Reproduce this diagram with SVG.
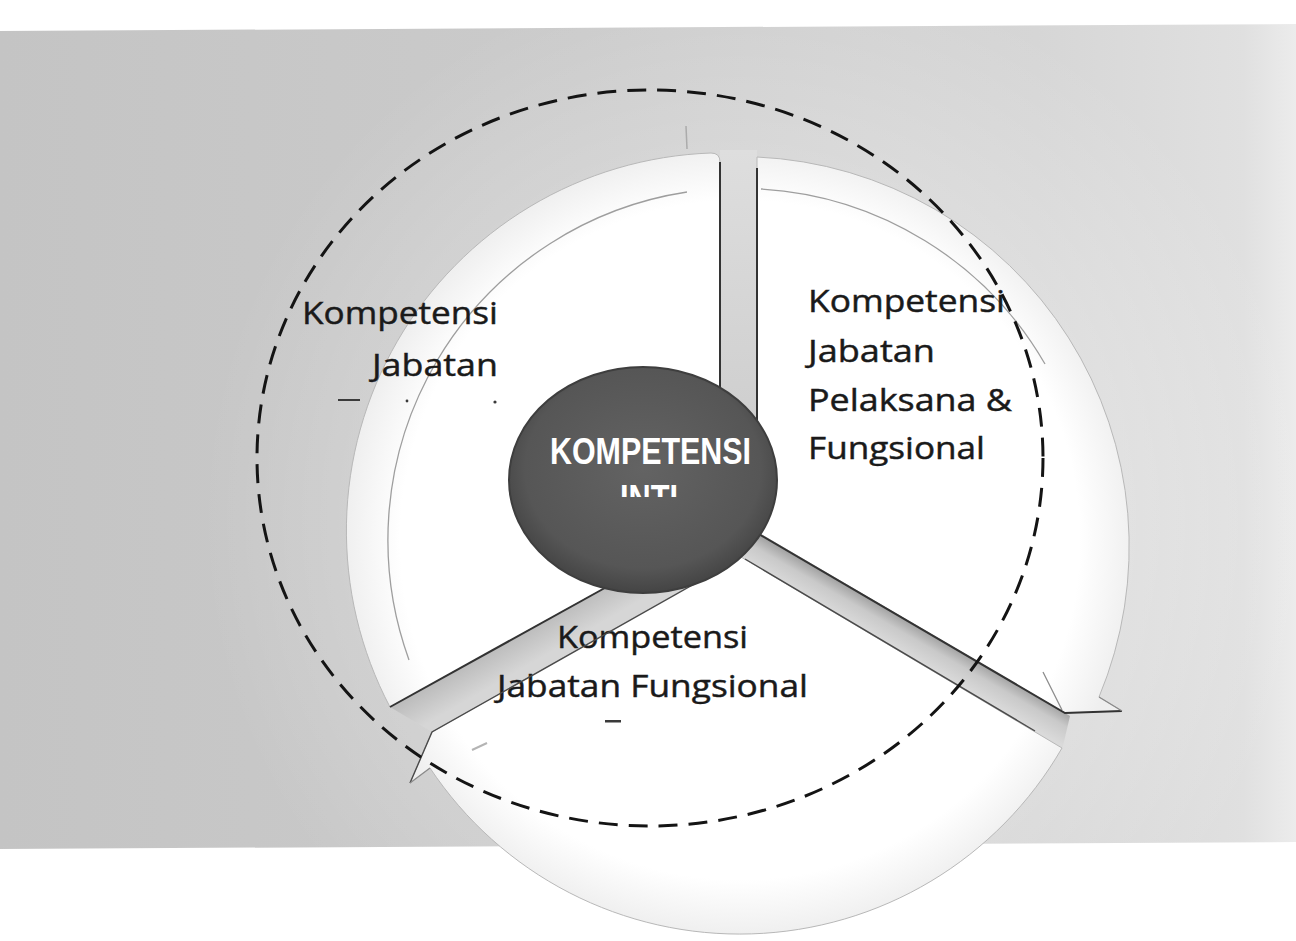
<svg xmlns="http://www.w3.org/2000/svg" width="1296" height="941" viewBox="0 0 1296 941">
<defs>
  <linearGradient id="bgGrad" x1="0" y1="0" x2="1" y2="0">
    <stop offset="0" stop-color="#c4c4c4"/>
    <stop offset="0.45" stop-color="#cbcbcb"/>
    <stop offset="0.8" stop-color="#d6d6d6"/>
    <stop offset="0.96" stop-color="#e0e0e0"/>
    <stop offset="1" stop-color="#ececec"/>
  </linearGradient>
  <radialGradient id="halo" cx="760" cy="520" r="560" gradientUnits="userSpaceOnUse">
    <stop offset="0.6" stop-color="#ffffff" stop-opacity="0.22"/>
    <stop offset="1" stop-color="#ffffff" stop-opacity="0"/>
  </radialGradient>
  <radialGradient id="segGrad" cx="740" cy="540" r="395" gradientUnits="userSpaceOnUse">
    <stop offset="0.86" stop-color="#ffffff"/>
    <stop offset="1" stop-color="#efefef"/>
  </radialGradient>
  <radialGradient id="coreGrad" cx="0.5" cy="0.45" r="0.55">
    <stop offset="0" stop-color="#636363"/>
    <stop offset="0.8" stop-color="#565656"/>
    <stop offset="1" stop-color="#444444"/>
  </radialGradient>
  <linearGradient id="spokeV" x1="0" y1="0" x2="0" y2="1">
    <stop offset="0" stop-color="#dedede"/>
    <stop offset="1" stop-color="#c8c8c8"/>
  </linearGradient>
  <linearGradient id="spokeLR" x1="900" y1="617" x2="885" y2="643" gradientUnits="userSpaceOnUse">
    <stop offset="0" stop-color="#a4a4a4"/>
    <stop offset="0.4" stop-color="#c9c9c9"/>
    <stop offset="1" stop-color="#dadada"/>
  </linearGradient>
  <linearGradient id="spokeLL" x1="550" y1="618" x2="565" y2="644" gradientUnits="userSpaceOnUse">
    <stop offset="0" stop-color="#bdbdbd"/>
    <stop offset="1" stop-color="#d6d6d6"/>
  </linearGradient>
  <clipPath id="intiClip"><rect x="600" y="470" width="100" height="27"/></clipPath>
</defs>
<style>
  .seg { fill: url(#segGrad); stroke: #b8b8b8; stroke-width: 1; }
  .edge { fill: none; stroke: #333333; stroke-width: 2; }
  .edgeThin { fill: none; stroke: #4a4a4a; stroke-width: 1.4; }
  .thinArc { fill: none; stroke: #9e9e9e; stroke-width: 1.3; }
  .lbl { font-family: "Open Sans", "Noto Sans", "Liberation Sans", sans-serif; font-size: 31px; fill: #1a1a1a; stroke: #1a1a1a; stroke-width: 0.45; }
  .coreTxt { font-family: "Liberation Sans", Arial, sans-serif; font-weight: bold; font-size: 36px; fill: #ffffff; }
  .mark { fill: #3a3a3a; }
  .dashRing { fill: none; stroke: #141414; stroke-width: 3; stroke-dasharray: 19 11; }
</style>

<g id="background">
  <rect x="0" y="0" width="1296" height="941" fill="#ffffff"/>
  <polygon points="0,31 1296,24 1296,842 0,849" fill="url(#bgGrad)"/>
  <polygon points="0,31 1296,24 1296,842 0,849" fill="url(#halo)"/>
</g>

<g id="connectors">
  <polygon points="720,150 757,150 757,545 720,545" fill="url(#spokeV)"/>
  <polygon points="757,533 1070,716 1062,750 741,557" fill="url(#spokeLR)"/>
  <polygon points="390,707 720,524 741,557 432,732" fill="url(#spokeLL)"/>
</g>

<g id="segment-left">
  <path class="seg" d="M390,707 L720,524 L720,162 Q720,153 711,153 A378,378 0 0 0 390,707 Z"/>
  <path class="thinArc" d="M687,192 A352,352 0 0 0 409,660"/>
  <line x1="686" y1="126" x2="687" y2="149" stroke="#ababab" stroke-width="1.5"/>
  <text class="lbl" x="302" y="324" textLength="196" lengthAdjust="spacingAndGlyphs">Kompetensi</text>
  <text class="lbl" x="372" y="376" textLength="126" lengthAdjust="spacingAndGlyphs">Jabatan</text>
  <rect class="mark" x="338" y="399" width="22" height="2" fill="#666666"/>
  <circle class="mark" cx="407" cy="401" r="1.4"/>
  <circle class="mark" cx="495" cy="402" r="1.6"/>
</g>

<g id="segment-right">
  <path class="seg" d="M757,157 A390,390 0 0 1 1099,697 L1122,711 L1065,713 L757,532 Z"/>
  <path class="thinArc" d="M761,189 A352,352 0 0 1 1045,364"/>
  <line x1="1043" y1="672" x2="1062" y2="710" stroke="#8a8a8a" stroke-width="1.2"/>
  <text class="lbl" x="808" y="312" textLength="197" lengthAdjust="spacingAndGlyphs">Kompetensi</text>
  <text class="lbl" x="808" y="362" textLength="127" lengthAdjust="spacingAndGlyphs">Jabatan</text>
  <text class="lbl" x="808" y="411" textLength="204" lengthAdjust="spacingAndGlyphs">Pelaksana &amp;</text>
  <text class="lbl" x="808" y="459" textLength="177" lengthAdjust="spacingAndGlyphs">Fungsional</text>
</g>

<g id="segment-bottom">
  <path class="seg" d="M1062,748 A372,372 0 0 1 430,768 L410,783 L432,732 L741,557 Z"/>
  <text class="lbl" x="557" y="648" textLength="191" lengthAdjust="spacingAndGlyphs">Kompetensi</text>
  <text class="lbl" x="497" y="697" textLength="311" lengthAdjust="spacingAndGlyphs">Jabatan Fungsional</text>
  <rect class="mark" x="605" y="720" width="16" height="2.5"/>
  <line x1="472" y1="750" x2="487" y2="743" stroke="#b4b4b4" stroke-width="2"/>
</g>

<g id="spoke-edges">
  <path class="edge" d="M720,162 V390"/>
  <path class="edge" d="M757,168 V425"/>
  <path class="edge" d="M757,533 L1065,713 L1122,711"/>
  <path class="edgeThin" d="M745,559 L1035,731"/>
  <path class="edge" d="M390,707 L612,584"/>
  <path class="edgeThin" d="M735,561 L432,732 L410,783"/>
  <path d="M410,783 L430,768" fill="none" stroke="#8a8a8a" stroke-width="1.2"/>
  <path d="M1122,711 L1099,697" fill="none" stroke="#8a8a8a" stroke-width="1.2"/>
</g>

<g id="core">
  <ellipse cx="643" cy="480" rx="134" ry="113" fill="url(#coreGrad)" stroke="#3e3e3e" stroke-width="2"/>
  <text class="coreTxt" x="550" y="464" textLength="201" lengthAdjust="spacingAndGlyphs">KOMPETENSI</text>
  <text class="coreTxt" x="620" y="511" textLength="58" lengthAdjust="spacingAndGlyphs" clip-path="url(#intiClip)">INTI</text>
</g>

<g id="boundary">
  <ellipse class="dashRing" cx="650" cy="458" rx="393" ry="368"/>
</g>
</svg>
